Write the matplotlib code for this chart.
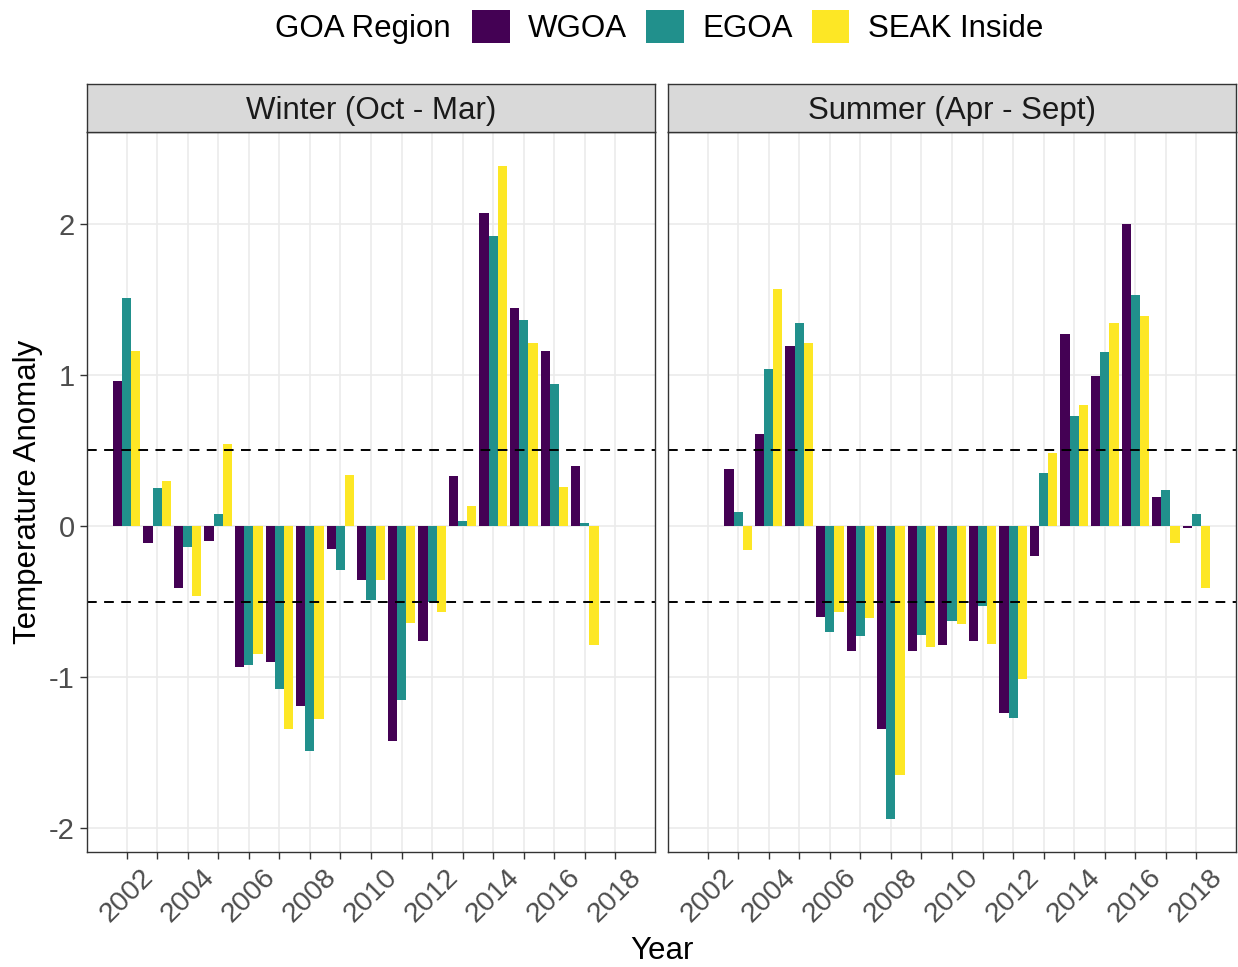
import matplotlib
matplotlib.use("Agg")
import matplotlib.pyplot as plt
from matplotlib.patches import Patch

plt.rcParams['font.family'] = ['Liberation Sans', 'DejaVu Sans']

regions = ['WGOA', 'EGOA', 'SEAK Inside']
colors = ['#440154', '#21908C', '#FDE725']

# Winter (Oct - Mar)
winter_years = list(range(2002, 2018))
winter_wgoa = [0.96, -0.11, -0.41, -0.10, -0.93, -0.90, -1.19, -0.15, -0.36, -1.42, -0.76, 0.33, 2.07, 1.44, 1.16, 0.40]
winter_egoa = [1.51, 0.25, -0.14, 0.08, -0.92, -1.08, -1.49, -0.29, -0.49, -1.15, -0.50, 0.03, 1.92, 1.36, 0.94, 0.02]
winter_seak = [1.16, 0.30, -0.46, 0.54, -0.85, -1.34, -1.28, 0.34, -0.36, -0.64, -0.57, 0.13, 2.38, 1.21, 0.26, -0.79]

# Summer (Apr - Sept)
summer_years = list(range(2003, 2019))
summer_wgoa = [0.38, 0.61, 1.19, -0.60, -0.83, -1.34, -0.83, -0.79, -0.76, -1.24, -0.20, 1.27, 0.99, 2.00, 0.19, -0.01]
summer_egoa = [0.09, 1.04, 1.34, -0.70, -0.73, -1.94, -0.72, -0.63, -0.53, -1.27, 0.35, 0.73, 1.15, 1.53, 0.24, 0.08]
summer_seak = [-0.16, 1.57, 1.21, -0.57, -0.61, -1.65, -0.80, -0.65, -0.78, -1.01, 0.48, 0.80, 1.34, 1.39, -0.11, -0.41]

panels = [
    ('Winter (Oct - Mar)', winter_years, [winter_wgoa, winter_egoa, winter_seak]),
    ('Summer (Apr - Sept)', summer_years, [summer_wgoa, summer_egoa, summer_seak]),
]

all_years = list(range(2002, 2019))
W, H = 1238, 967
fig = plt.figure(figsize=(W / 100, H / 100), dpi=100)

lefts = [87, 668]
pw = 568
ptop, pbot = 132, 852
strip_top = 84
txt = '#4D4D4D'
dark = '#333333'

for (title, yrs, series), lx in zip(panels, lefts):
    ax = fig.add_axes([lx / W, 1 - pbot / H, pw / W, (pbot - ptop) / H])
    bw = 0.3
    for i, vals in enumerate(series):
        ax.bar([y + (i - 1) * bw for y in yrs], vals, width=bw, color=colors[i],
               edgecolor='none', zorder=3)
    for yv in (0.5, -0.5):
        ax.axhline(yv, color='black', lw=1.4, ls=(0, (5, 3.8)), zorder=4)
    ax.set_xlim(2000.705, 2019.295)
    ax.set_ylim(-2.157, 2.607)
    ax.set_xticks(all_years)
    ax.set_xticklabels([str(y) if y % 2 == 0 else '' for y in all_years],
                       rotation=45, ha='center', fontsize=20.5, color=txt)
    ax.set_yticks([-2, -1, 0, 1, 2])
    ax.tick_params(axis='both', length=5, width=1, color=dark, pad=4)
    if lx == lefts[0]:
        ax.set_yticklabels(['-2', '-1', '0', '1', '2'], fontsize=21, color=txt)
    else:
        ax.set_yticklabels([])
        ax.tick_params(axis='y', length=0)
    ax.grid(True, color='#EBEBEB', lw=1.2, zorder=0)
    ax.set_axisbelow(True)
    for s in ax.spines.values():
        s.set_color(dark)
        s.set_linewidth(1.0)
        s.set_zorder(5)

    sax = fig.add_axes([lx / W, 1 - ptop / H, pw / W, (ptop - strip_top) / H])
    sax.set_facecolor('#D9D9D9')
    sax.set_xticks([])
    sax.set_yticks([])
    for s in sax.spines.values():
        s.set_color(dark)
        s.set_linewidth(1.0)
    sax.text(0.5, 0.43, title, transform=sax.transAxes, ha='center', va='center',
             fontsize=22.5, color='#1A1A1A')

fig.text(28 / W, 1 - 492 / H, 'Temperature Anomaly', rotation=90, ha='center',
         va='center', fontsize=22.5)
fig.text(662 / W, 1 - 951 / H, 'Year', ha='center', va='center', fontsize=22.5)

fig.text(275 / W, 1 - 29 / H, 'GOA Region', ha='left', va='center', fontsize=22.5)
handles = [Patch(facecolor=c, edgecolor='none') for c in colors]
fig.legend(handles, regions, ncol=3, loc='center left',
           bbox_to_anchor=(472 / W, 1 - 27 / H), frameon=False, fontsize=22.5,
           handlelength=1.2, handleheight=1.25, handletextpad=0.6,
           columnspacing=0.6, borderpad=0, borderaxespad=0)

fig.savefig('out.png', dpi=100)
